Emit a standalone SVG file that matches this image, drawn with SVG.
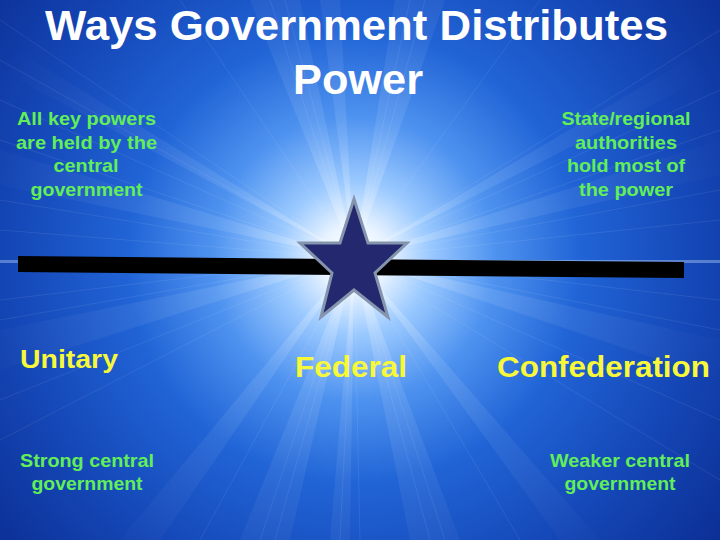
<svg xmlns="http://www.w3.org/2000/svg" width="720" height="540" viewBox="0 0 720 540">
  <defs>
    <radialGradient id="bg" gradientUnits="userSpaceOnUse" cx="354" cy="258" r="470">
      <stop offset="0" stop-color="#ffffff"/>
      <stop offset="0.07" stop-color="#eaf4ff"/>
      <stop offset="0.16" stop-color="#9ccaff"/>
      <stop offset="0.3" stop-color="#4f93f0"/>
      <stop offset="0.48" stop-color="#2164d6"/>
      <stop offset="0.72" stop-color="#1548b8"/>
      <stop offset="1" stop-color="#0b2d92"/>
    </radialGradient>
    <radialGradient id="rayfade" gradientUnits="userSpaceOnUse" cx="354" cy="258" r="400">
      <stop offset="0" stop-color="#ffffff" stop-opacity="0.35"/>
      <stop offset="0.3" stop-color="#ffffff" stop-opacity="0.1"/>
      <stop offset="1" stop-color="#ffffff" stop-opacity="0"/>
    </radialGradient>
    <linearGradient id="hstreak" x1="0" y1="0" x2="1" y2="0">
      <stop offset="0" stop-color="#cfe4ff" stop-opacity="0.8"/>
      <stop offset="0.5" stop-color="#ffffff" stop-opacity="1"/>
      <stop offset="1" stop-color="#cfe4ff" stop-opacity="0.8"/>
    </linearGradient>
    <style>
      .title { font-family: "Liberation Sans", Arial, sans-serif; font-weight: bold; font-size: 42px; fill: #ffffff; text-anchor: middle; }
      .note { font-family: "Liberation Sans", Arial, sans-serif; font-weight: bold; font-size: 18.5px; fill: #62ee58; text-anchor: middle; }
      .label { font-family: "Liberation Sans", Arial, sans-serif; font-weight: bold; font-size: 29px; fill: #f8f83a; text-anchor: middle; }
      .ray { fill: url(#rayfade); }
      .line { stroke: #ffffff; stroke-opacity: 0.12; stroke-width: 0.7; fill: none; }
    </style>
  </defs>

  <!-- background -->
  <rect x="0" y="0" width="720" height="540" fill="url(#bg)"/>
  <g id="rays">
    <polygon class="ray" points="354,258 250,0 300,0"/>
    <polygon class="ray" points="354,258 395,0 445,0"/>
    <polygon class="ray" points="354,258 320,0 340,0"/>
    <polygon class="ray" points="354,258 0,150 0,185"/>
    <polygon class="ray" points="354,258 720,140 720,175"/>
    <polygon class="ray" points="354,258 0,330 0,370"/>
    <polygon class="ray" points="354,258 720,340 720,380"/>
    <polygon class="ray" points="354,258 240,540 290,540"/>
    <polygon class="ray" points="354,258 410,540 460,540"/>
    <polygon class="ray" points="354,258 330,540 350,540"/>
    <polygon class="ray" points="354,258 0,40 0,70"/>
    <polygon class="ray" points="354,258 720,40 720,70"/>
    <polygon class="ray" points="354,258 120,540 160,540"/>
    <polygon class="ray" points="354,258 560,540 600,540"/>
  </g>
  <g id="lines">
    <path class="line" d="M354,258 L0,20 M354,258 L0,60 M354,258 L0,100 M354,258 L0,140 M354,258 L0,200 M354,258 L0,230 M354,258 L720,30 M354,258 L720,90 M354,258 L720,130 M354,258 L720,190 M354,258 L720,220 M354,258 L0,300 M354,258 L0,320 M354,258 L0,400 M354,258 L0,440 M354,258 L720,300 M354,258 L720,330 M354,258 L720,420 M354,258 L720,480 M354,258 L270,0 M354,258 L285,0 M354,258 L410,0 M354,258 L425,0 M354,258 L180,0 M354,258 L540,0 M354,258 L260,540 M354,258 L275,540 M354,258 L430,540 M354,258 L445,540 M354,258 L200,540 M354,258 L520,540 M354,258 L340,540 M354,258 L360,540"/>
  </g>
  <rect x="0" y="260" width="720" height="3" fill="url(#hstreak)" opacity="0.45"/>

  <!-- title -->
  <g id="title">
    <text class="title" x="356.5" y="40" textLength="623" lengthAdjust="spacingAndGlyphs">Ways Government Distributes</text>
    <text class="title" x="358" y="94" textLength="130" lengthAdjust="spacingAndGlyphs">Power</text>
  </g>

  <!-- spectrum bar -->
  <g id="connectors">
    <polygon points="18,256 684,262 684,278 18,272" fill="#000000"/>
  </g>

  <!-- star -->
  <g id="federal-star">
    <polygon points="354,199 368,243 407,243 375,273 388,317 354,290 321,317 332,273 300,243 340,243" fill="#23286f" stroke="#8494ad" stroke-width="3" stroke-linejoin="miter"/>
  </g>

  <!-- notes -->
  <g id="note-left">
    <text class="note" x="86.5" y="125" textLength="139" lengthAdjust="spacingAndGlyphs">All key powers</text>
    <text class="note" x="86.5" y="148.5" textLength="141" lengthAdjust="spacingAndGlyphs">are held by the</text>
    <text class="note" x="86" y="172" textLength="65" lengthAdjust="spacingAndGlyphs">central</text>
    <text class="note" x="86.5" y="195.5" textLength="112" lengthAdjust="spacingAndGlyphs">government</text>
  </g>
  <g id="note-right">
    <text class="note" x="626" y="125" textLength="129" lengthAdjust="spacingAndGlyphs">State/regional</text>
    <text class="note" x="626" y="148.5" textLength="102" lengthAdjust="spacingAndGlyphs">authorities</text>
    <text class="note" x="626" y="172" textLength="118" lengthAdjust="spacingAndGlyphs">hold most of</text>
    <text class="note" x="626" y="195.5" textLength="94" lengthAdjust="spacingAndGlyphs">the power</text>
  </g>

  <!-- labels -->
  <g id="unitary">
    <text class="label" x="69" y="368" style="font-size:25px" textLength="98" lengthAdjust="spacingAndGlyphs">Unitary</text>
  </g>
  <g id="federal">
    <text class="label" x="351" y="377" textLength="112" lengthAdjust="spacingAndGlyphs">Federal</text>
  </g>
  <g id="confederation">
    <text class="label" x="603.5" y="377" textLength="213" lengthAdjust="spacingAndGlyphs">Confederation</text>
  </g>

  <!-- bottom notes -->
  <g id="note-bottom-left">
    <text class="note" x="87" y="466.5" textLength="134" lengthAdjust="spacingAndGlyphs">Strong central</text>
    <text class="note" x="87" y="490" textLength="111" lengthAdjust="spacingAndGlyphs">government</text>
  </g>
  <g id="note-bottom-right">
    <text class="note" x="620" y="466.5" textLength="140" lengthAdjust="spacingAndGlyphs">Weaker central</text>
    <text class="note" x="620" y="490" textLength="111" lengthAdjust="spacingAndGlyphs">government</text>
  </g>
</svg>
